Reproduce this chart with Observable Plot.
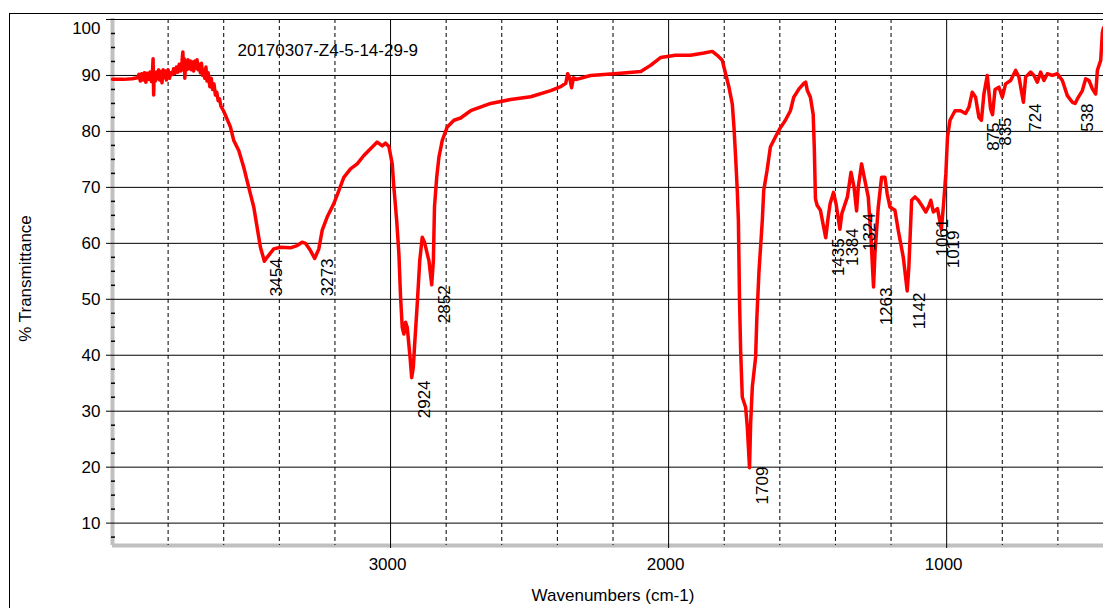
<!DOCTYPE html>
<html><head><meta charset="utf-8">
<script src="https://cdn.jsdelivr.net/npm/d3@7"></script>
<script src="https://cdn.jsdelivr.net/npm/@observablehq/plot@0.6"></script>
<style>
html,body{margin:0;padding:0;overflow:hidden;background:#fff;width:1103px;height:608px}
#chart{position:absolute;left:0;top:0;width:1113px}
#frame{position:absolute;left:9px;top:13px;width:1200px;height:700px;border-left:1.5px solid #000;border-top:1.5px solid #000;pointer-events:none}
</style></head><body>
<div id="chart"></div><div id="frame"></div>
<script>
const titleText = "20170307-Z4-5-14-29-9";
const xLabel = "Wavenumbers (cm-1)";
const yLabel = "% Transmittance";
const xLabels = [3000, 2000, 1000];
const xDashed = [3800, 3600, 3400, 3200, 2800, 2600, 2400, 2200, 1800, 1600, 1400, 1200, 800, 600];
const yTicks = [10, 20, 30, 40, 50, 60, 70, 80, 90, 100];
const yMinor = [7.5,12.5,15,17.5,22.5,25,27.5,32.5,35,37.5,42.5,45,47.5,52.5,55,57.5,62.5,65,67.5,72.5,75,77.5,82.5,85,87.5,92.5,95,97.5];

const wavenumber = [
4000,3960,3930,3910,3905,3900,3895,3890,3885,3880,3875,3870,3865,3860,3856,3854,3852,3850,3846,3842,3838,3834,3830,3826,3822,3818,3814,3810,3806,3800,3795,3790,3785,3780,3775,3770,3765,3760,3755,3750,3747,3745,3742,3740,3737,3733,3729,3725,3720,3716,3712,3708,3704,3700,3696,3692,3688,3684,3680,3676,3672,3668,3664,3660,3656,3650,3645,3640,3635,3630,3625,3620,3615,3610,3600,
3576,3564,3546,3528,3510,3492,3480,3468,3456,3454,3444,3420,3396,3360,3336,3318,3306,3288,3273,3258,3246,3228,3204,3186,3168,3144,3120,3096,3072,3048,3030,3018,3006,
2994,2988,2978,2970,2964,2958,2952,2946,2940,2930,2924,2918,2914,2904,2895,2886,2878,2868,2862,2852,2846,2842,2834,2826,2814,2796,2772,2748,2712,2640,2568,2496,2424,2388,2370,2363,2356,2349,2342,2331,2281,2173,2100,2065,2029,1975,1921,1873,1843,1825,1807,1795,1783,1771,1765,1759,1753,1749,1745,1741,1735,1723,1717,1709,1705,1699,1687,1683,1675,1663,1658,1646,1634,1616,1600,1580,1562,1550,1531,1513,1507,1501,1490,1480,1476,1472,1466,1454,1435,1426,1419,1407,1398,1384,1377,1357,1344,1333,1324,1318,1306,1294,1282,1273,1263,1258,1246,1234,1222,1214,1204,1186,1174,1156,1142,1136,1126,1114,1102,1090,1075,1063,1057,1048,1033,1019,1012,1003,997,
988,970,950,932,920,908,896,884,875,866,854,842,835,826,812,800,788,770,752,740,724,716,698,686,674,662,650,638,620,602,584,566,548,538,530,512,500,488,476,464,458,446,440,436];
const transmittance = [
89.3,89.3,89.4,89.6,90.2,89.0,90.3,89.2,90.5,88.8,90.4,89.3,90.6,88.9,91.0,93.0,86.5,90.5,89.0,90.6,89.4,91.0,89.2,90.7,88.7,91.0,89.6,90.8,89.2,91.0,89.5,90.5,90.2,91.2,90.4,91.5,90.6,92.0,90.8,92.5,94.2,91.0,93.0,89.5,92.5,91.0,92.8,91.2,92.6,91.0,92.4,90.8,92.6,91.3,92.8,91.0,92.0,90.5,92.2,90.0,91.0,89.5,91.5,89.0,90.5,88.0,89.5,87.5,88.5,86.5,87.0,85.5,85.8,84.5,83.6,
80.8,78.4,76.6,73.6,70.0,66.5,62.9,59.3,57.2,56.8,57.5,59.0,59.3,59.2,59.6,60.2,60.0,58.7,57.3,59.0,62.3,64.7,67.1,69.4,71.8,73.3,74.2,75.7,76.9,78.1,77.4,77.9,77.3,
74.2,70.0,64.1,58.1,50.4,45.0,43.8,45.9,45.0,39.7,36.0,37.9,41.4,49.2,56.9,61.1,60.2,58.1,56.9,52.6,56.9,66.5,71.8,75.4,78.4,80.8,82.0,82.4,83.7,85.0,85.7,86.2,87.3,88.0,88.6,90.3,89.6,87.8,89.6,89.3,90.0,90.4,90.7,91.8,93.2,93.6,93.6,94.0,94.3,93.6,92.7,90.3,87.9,84.9,80.8,75.4,69.4,64.0,50.0,40.9,32.5,30.7,27.2,19.9,27.8,34.3,39.7,46.2,55.0,64.1,69.4,73.0,77.2,79.0,80.5,82.0,83.7,86.1,87.6,88.6,88.8,87.3,86.1,83.0,77.0,68.0,66.8,65.9,61.0,64.7,67.1,69.1,67.1,62.5,65.3,68.3,72.7,70.0,65.8,70.0,74.2,71.2,68.3,61.7,52.2,58.1,66.5,71.8,71.8,68.9,66.5,65.9,62.3,57.5,51.5,55.7,67.7,68.3,67.7,66.8,65.6,66.8,67.7,65.6,66.2,62.5,66.5,72.4,79.0,
82.0,83.7,83.7,83.2,84.3,87.0,86.1,82.5,82.0,86.7,90.0,84.0,83.0,87.5,87.9,86.1,88.5,89.1,90.9,89.7,85.2,89.7,90.6,90.0,88.8,90.6,89.1,90.3,90.0,90.3,89.1,86.4,85.2,85.0,85.8,87.3,89.4,89.1,87.6,86.7,90.9,92.7,97.7,98.5];

const peakWn = [3454, 3273, 2924, 2852, 1709, 1435, 1384, 1324, 1263, 1142, 1061, 1019, 875, 835, 724, 538];
const peakT  = [57.3, 57.3, 35.5, 52.5, 20.1, 60.9, 62.7, 65.4, 52.1, 51.2, 64.4, 62.3, 81.6, 82.5, 85.0, 85.0];

const spectrum = wavenumber.map((w, i) => ({w, t: transmittance[i]}));
const xDomain = [4000, 400];
const yDomain = [6, 100];
const ink = "#000";

const chart = Plot.plot({
  width: 1113, height: 608,
  marginLeft: 112, marginRight: 0, marginTop: 19, marginBottom: 63,
  x: {domain: xDomain, axis: null},
  y: {domain: yDomain, axis: null},
  style: {fontFamily: "'Liberation Sans', Arial, sans-serif", fontSize: "17px", background: "transparent", color: ink, maxWidth: "none"},
  marks: [
    Plot.ruleX([xDomain[0]], {stroke: "#c0c0c0", strokeWidth: 4, insetTop: -1}),
    Plot.ruleY([yDomain[0]], {stroke: "#c0c0c0", strokeWidth: 4}),
    Plot.ruleX(xDashed, {stroke: ink, strokeDasharray: "4,3"}),
    Plot.ruleY(yTicks, {stroke: ink}),
    Plot.ruleX(xLabels, {stroke: ink, insetBottom: -3}),
    Plot.axisY({ticks: yTicks, tickSize: 6, tickPadding: 6, tickFormat: d => d === 100 ? "" : String(d), label: null, fill: ink}),
    Plot.axisY({ticks: [100], tickSize: 0, tickPadding: 12, dy: 9, tickFormat: d => String(d), label: null, fill: ink}),
    Plot.axisY({ticks: yMinor, tickSize: 4, dx: 3, tickFormat: () => "", label: null, strokeWidth: 1.5}),
    Plot.axisX({ticks: xLabels, tickSize: 0, tickPadding: 12, dx: -3, tickFormat: d => String(d), label: null, fill: ink}),
    Plot.line(spectrum, {x: "w", y: "t", stroke: "#ff0000", strokeWidth: 3.5, strokeLinejoin: "round"}),
    Plot.text(peakWn, {x: d => d, y: (d, i) => peakT[i], text: d => String(d), rotate: -90, textAnchor: "end", lineAnchor: "bottom", dx: 18, fill: ink, fontSize: 17}),
    Plot.text([titleText], {frameAnchor: "top-left", dx: 125, dy: 31, text: d => d, textAnchor: "start", lineAnchor: "middle", fill: ink, fontSize: 17}),
    Plot.text([yLabel], {frameAnchor: "left", text: d => d, rotate: -90, dx: -87, dy: -4, textAnchor: "middle", lineAnchor: "middle", fill: ink, fontSize: 17}),
    Plot.text([xLabel], {frameAnchor: "bottom", text: d => d, dy: 55, lineAnchor: "bottom", fill: ink, fontSize: 17})
  ]
});
chart.style.maxWidth = "none";
document.getElementById("chart").appendChild(chart);
</script>
</body></html>
